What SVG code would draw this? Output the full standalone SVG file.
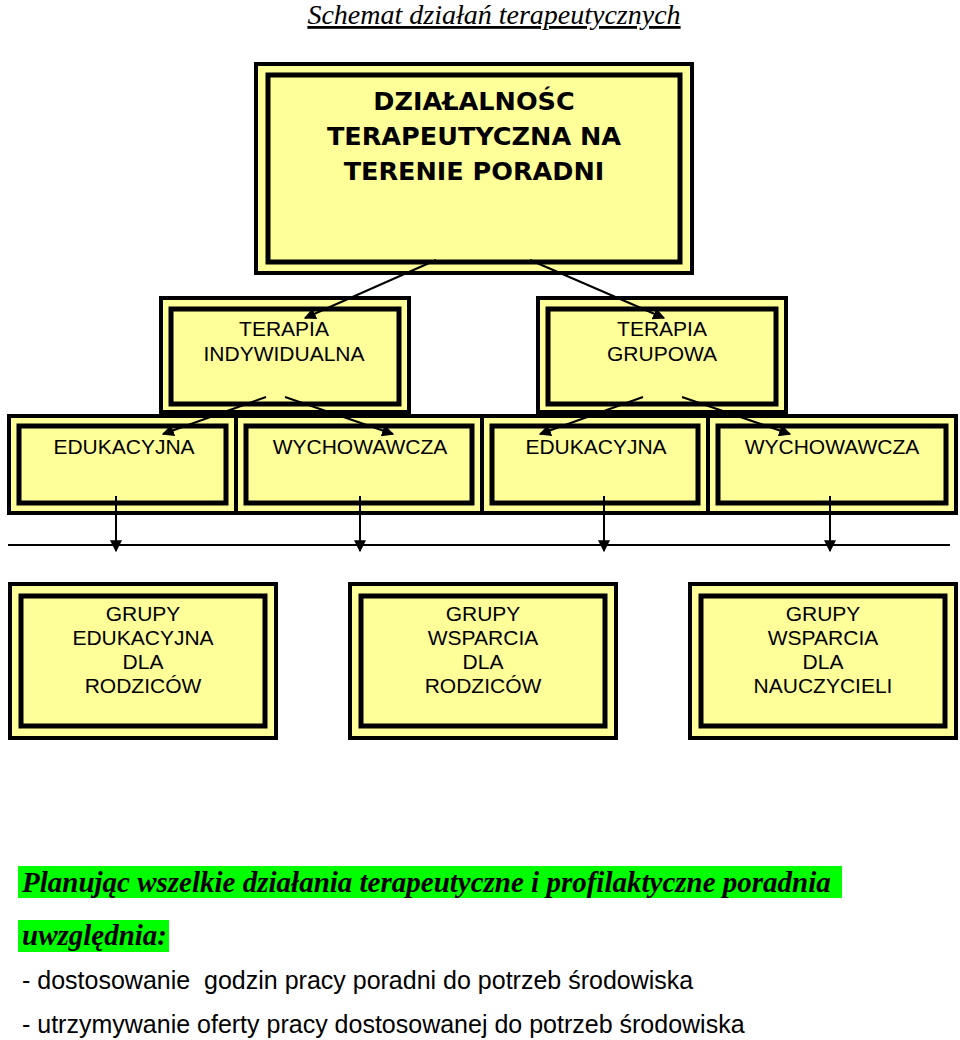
<svg xmlns="http://www.w3.org/2000/svg" width="960" height="1040" viewBox="0 0 960 1040">
<defs>
<marker id="ah2" viewBox="0 0 10 10" refX="9" refY="5" markerWidth="12" markerHeight="12" orient="auto" markerUnits="userSpaceOnUse"><path d="M0,0 L10,5 L0,10 z" fill="#000"/></marker>
</defs>
<style>
.o{fill:#ffff99;stroke:#000;stroke-width:4}
.i{fill:#ffff99;stroke:#000;stroke-width:5}
.t{font-family:"Liberation Sans",Arial,sans-serif;font-size:21px;fill:#000;text-anchor:middle}
.tk{font-family:"DejaVu Sans",sans-serif;font-size:25.5px;font-weight:bold;fill:#000;text-anchor:middle}
.it{font-family:"Liberation Serif",serif;font-size:29px;font-style:italic;font-weight:bold;fill:#000}
.n{font-family:"Liberation Sans",Arial,sans-serif;font-size:25px;fill:#000}
.c{stroke:#000;stroke-width:2;fill:none}
</style>
<text x="494" y="24" font-family="Liberation Serif,serif" font-size="28" font-style="italic" text-anchor="middle" text-decoration="underline">Schemat działań terapeutycznych</text>
<g id="n-root"><rect class="o" x="256" y="64" width="436" height="209"/><rect class="i" x="268" y="75" width="412" height="187"/>
<text class="tk" x="474" y="110">DZIAŁALNOŚC</text><text class="tk" x="474" y="145">TERAPEUTYCZNA NA</text><text class="tk" x="474" y="180">TERENIE PORADNI</text></g>
<g id="n-ind"><rect class="o" x="161" y="298" width="248" height="114"/><rect class="i" x="171" y="309" width="228" height="95"/>
<text class="t" x="284" y="336">TERAPIA</text><text class="t" x="284" y="361">INDYWIDUALNA</text></g>
<g id="n-grp"><rect class="o" x="538" y="298" width="248" height="114"/><rect class="i" x="548" y="309" width="228" height="95"/>
<text class="t" x="662" y="336">TERAPIA</text><text class="t" x="662" y="361">GRUPOWA</text></g>
<g id="n-e1"><rect class="o" x="9" y="416" width="227" height="97"/><rect class="i" x="19" y="426" width="207" height="77"/><text class="t" x="124" y="454">EDUKACYJNA</text></g>
<g id="n-w1"><rect class="o" x="236" y="416" width="246" height="97"/><rect class="i" x="246" y="426" width="226" height="77"/><text class="t" x="360" y="454">WYCHOWAWCZA</text></g>
<g id="n-e2"><rect class="o" x="482" y="416" width="226" height="97"/><rect class="i" x="492" y="426" width="206" height="77"/><text class="t" x="596" y="454">EDUKACYJNA</text></g>
<g id="n-w2"><rect class="o" x="708" y="416" width="248" height="97"/><rect class="i" x="718" y="426" width="228" height="77"/><text class="t" x="832" y="454">WYCHOWAWCZA</text></g>
<g id="n-g1"><rect class="o" x="10" y="584" width="266" height="154"/><rect class="i" x="21" y="596" width="244" height="130"/>
<text class="t" x="143" y="621">GRUPY</text><text class="t" x="143" y="645">EDUKACYJNA</text><text class="t" x="143" y="669">DLA</text><text class="t" x="143" y="693">RODZICÓW</text></g>
<g id="n-g2"><rect class="o" x="350" y="584" width="266" height="154"/><rect class="i" x="361" y="596" width="244" height="130"/>
<text class="t" x="483" y="621">GRUPY</text><text class="t" x="483" y="645">WSPARCIA</text><text class="t" x="483" y="669">DLA</text><text class="t" x="483" y="693">RODZICÓW</text></g>
<g id="n-g3"><rect class="o" x="690" y="584" width="266" height="154"/><rect class="i" x="701" y="596" width="244" height="130"/>
<text class="t" x="823" y="621">GRUPY</text><text class="t" x="823" y="645">WSPARCIA</text><text class="t" x="823" y="669">DLA</text><text class="t" x="823" y="693">NAUCZYCIELI</text></g>
<g id="connectors">
<line class="c" x1="436" y1="260" x2="305" y2="318" marker-end="url(#ah2)"/>
<line class="c" x1="530" y1="260" x2="664" y2="318" marker-end="url(#ah2)"/>
<line class="c" x1="266" y1="397" x2="163" y2="434" marker-end="url(#ah2)"/>
<line class="c" x1="285" y1="397" x2="393" y2="434" marker-end="url(#ah2)"/>
<line class="c" x1="643" y1="397" x2="540" y2="434" marker-end="url(#ah2)"/>
<line class="c" x1="682" y1="397" x2="790" y2="434" marker-end="url(#ah2)"/>
<line class="c" x1="8" y1="545" x2="950" y2="545"/>
<line class="c" x1="116" y1="496" x2="116" y2="551" marker-end="url(#ah2)"/>
<line class="c" x1="360" y1="496" x2="360" y2="551" marker-end="url(#ah2)"/>
<line class="c" x1="604" y1="496" x2="604" y2="551" marker-end="url(#ah2)"/>
<line class="c" x1="830" y1="496" x2="830" y2="551" marker-end="url(#ah2)"/>
</g>
<rect x="18" y="866" width="824" height="32" fill="#00ff00"/>
<rect x="18" y="920" width="151" height="32" fill="#00ff00"/>
<text class="it" x="22" y="892">Planując wszelkie działania terapeutyczne i profilaktyczne poradnia</text>
<text class="it" x="22" y="945">uwzględnia:</text>
<text class="n" x="22" y="989" xml:space="preserve">- dostosowanie  godzin pracy poradni do potrzeb środowiska</text>
<text class="n" x="22" y="1033">- utrzymywanie oferty pracy dostosowanej do potrzeb środowiska</text>
</svg>
